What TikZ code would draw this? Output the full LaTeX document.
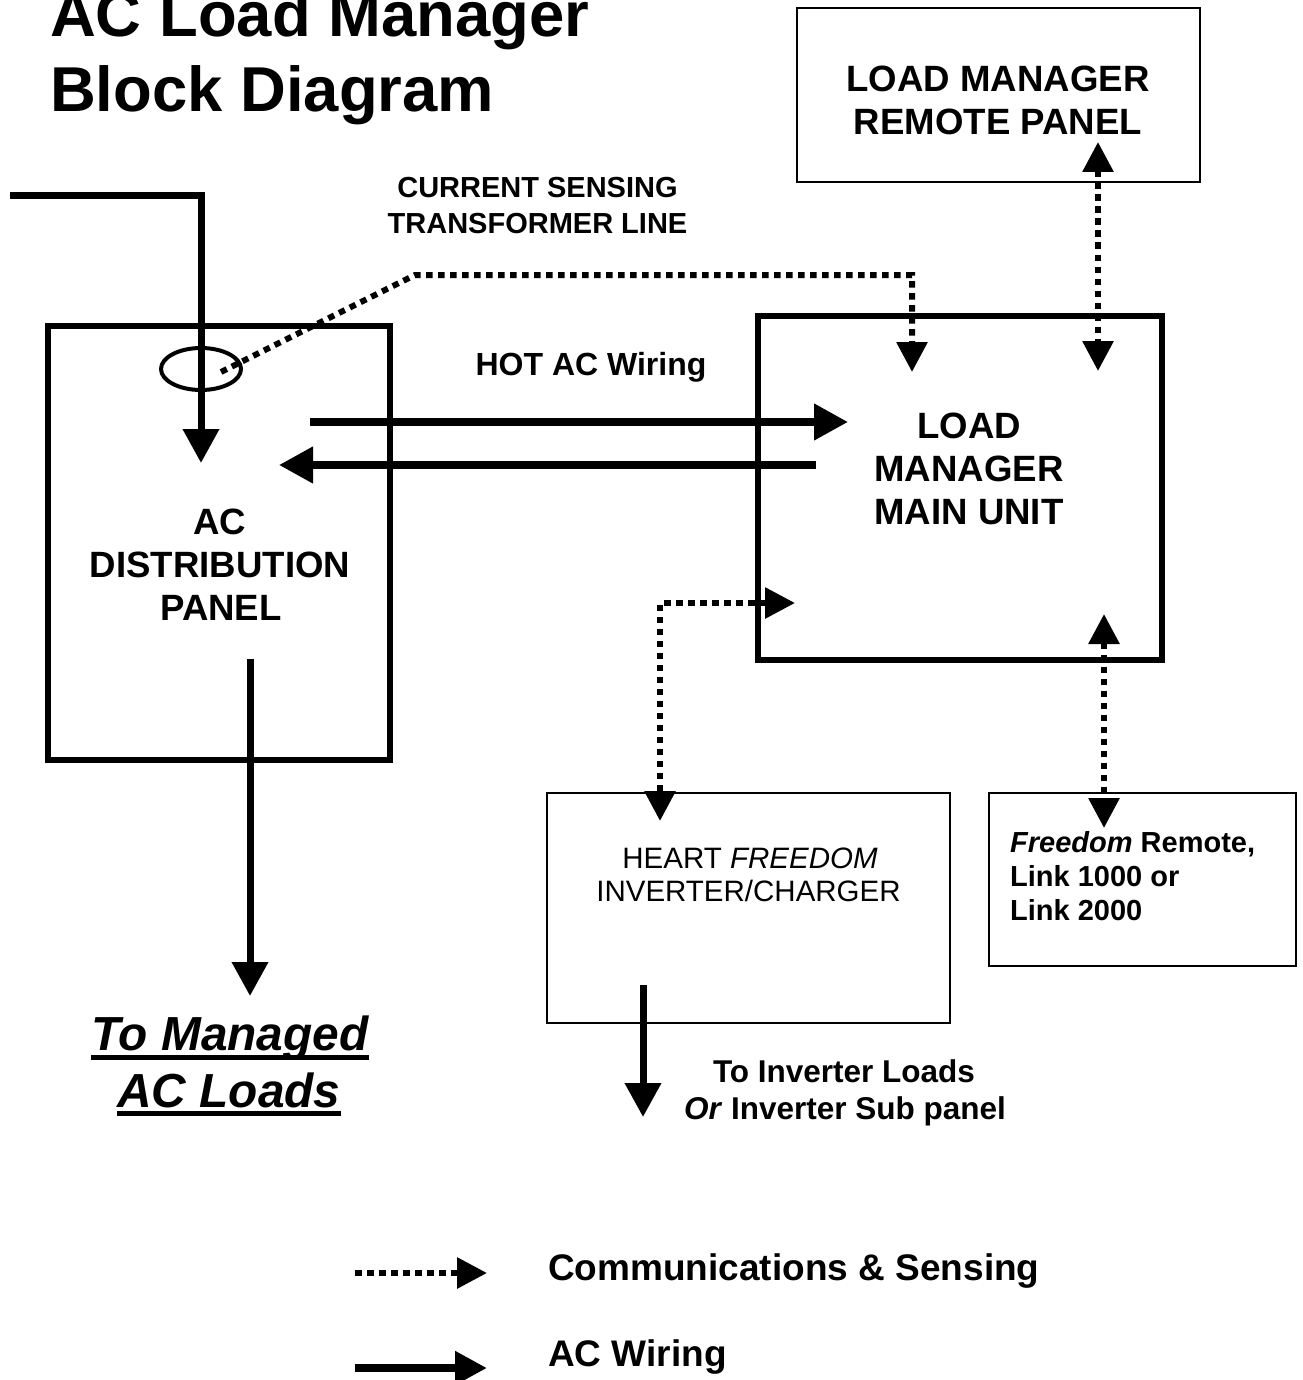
\documentclass[tikz,border=0pt]{standalone}
\usepackage{fontspec}
\setmainfont{Liberation Sans}
\usetikzlibrary{arrows.meta}
\begin{document}
\begin{tikzpicture}[x=1pt,y=-1pt,
  heavybox/.style={draw, line width=6.5pt, inner sep=0pt},
  thinbox/.style={draw, line width=1.5pt, inner sep=0pt},
  wire/.style={line width=7pt, -{Triangle[length=34pt,width=35pt]}},
  wireplain/.style={line width=7pt},
  commline/.style={line width=6pt, dash pattern=on 6.5pt off 5.5pt},
  comm/.style={commline, -{Triangle[length=30pt,width=30pt]}},
  commboth/.style={commline, {Triangle[length=30pt,width=30pt]}-{Triangle[length=30pt,width=30pt]}},
  txt/.style={inner sep=0pt, anchor=base},
  txtw/.style={inner sep=0pt, anchor=base west},
  titlef/.style={font=\fontsize{63.4}{75}\selectfont\bfseries},
  bigf/.style={font=\fontsize{36.6}{43}\selectfont\bfseries},
  midf/.style={font=\fontsize{29}{34}\selectfont\bfseries},
  hotf/.style={font=\fontsize{32}{38}\selectfont\bfseries},
  invf/.style={font=\fontsize{29.5}{34}\selectfont},
  loadf/.style={font=\fontsize{31.5}{37}\selectfont\bfseries},
  manf/.style={font=\fontsize{47.8}{56}\selectfont\bfseries\itshape},
  legf/.style={font=\fontsize{37}{44}\selectfont\bfseries}
]
\useasboundingbox (0,0) rectangle (1302,1380);

% title
\node[txtw,titlef] (t1) at (50,37) {AC Load Manager};
\node[txtw,titlef] (t2) at (50,112) {Block Diagram};

% boxes
\node[thinbox, minimum width=403pt, minimum height=174pt] (remote) at (998.5,95) {};
\node[heavybox, minimum width=404pt, minimum height=344pt] (main) at (960,488) {};
\node[heavybox, minimum width=342pt, minimum height=434pt] (acp) at (219,543) {};
\node[thinbox, minimum width=403pt, minimum height=230pt] (inv) at (748.5,908) {};
\node[thinbox, minimum width=307pt, minimum height=173pt] (frem) at (1142.5,879.5) {};

% box texts
\node[txt,bigf] (r1) at (998,92) {LOAD MANAGER};
\node[txt,bigf] (r2) at (998,135) {REMOTE PANEL};
\node[txt,bigf] (m1) at (969,438) {LOAD};
\node[txt,bigf] (m2) at (969,481) {MANAGER};
\node[txt,bigf] (m3) at (969,524) {MAIN UNIT};
\node[txt,bigf] (a1) at (220,534) {AC};
\node[txt,bigf] (a2) at (220,577) {DISTRIBUTION};
\node[txt,bigf] (a3) at (221,620) {PANEL};
\node[txt,invf] (i1) at (750,868) {HEART \textit{FREEDOM}};
\node[txt,invf] (i2) at (748.5,901) {INVERTER/CHARGER};
\node[txtw,midf] (f1) at (1010,852) {\textit{Freedom} Remote,};
\node[txtw,midf] (f2) at (1010,886) {Link 1000 or};
\node[txtw,midf] (f3) at (1010,920) {Link 2000};

% labels
\node[txt,midf] (cs1) at (537.5,198) {CURRENT SENSING};
\node[txt,midf] (cs2) at (537.5,234) {TRANSFORMER LINE};
\node[txt,hotf] (hot) at (591,375) {HOT AC Wiring};
\node[txt,loadf] (il1) at (844,1082) {To Inverter Loads};
\node[txt,loadf] (il2) at (845,1119) {\textit{Or} Inverter Sub panel};
\node[txt,manf] (ml1) at (230,1050) {To Managed};
\node[txt,manf] (ml2) at (229,1107) {AC Loads};
\draw[line width=5pt] ([yshift=-7pt]ml1.base west) -- ([yshift=-7pt]ml1.base east);
\draw[line width=5pt] ([yshift=-6pt]ml2.base west) -- ([yshift=-6pt]ml2.base east);

% coordinates
\coordinate (inA) at (10,196);
\coordinate (inB) at (201,196);
\coordinate (inC) at (201,463);
\coordinate (ct) at (201,369);
\coordinate (csA) at (221,372);
\coordinate (csB) at (415,275);
\coordinate (csC) at (912,275);
\coordinate (csD) at (912,372);
\coordinate (hotA) at (310,422);
\coordinate (hotB) at (848,422);
\coordinate (hotC) at (816,465);
\coordinate (hotD) at (279,465);
\coordinate (remA) at (1098,142);
\coordinate (remB) at (1098,371);
\coordinate (acoA) at (250,659);
\coordinate (acoB) at (250,996);
\coordinate (ivA) at (795,603);
\coordinate (ivB) at (660,603);
\coordinate (ivC) at (660,821);
\coordinate (frA) at (1104,614);
\coordinate (frB) at (1104,828);
\coordinate (ioA) at (643,985);
\coordinate (ioB) at (643,1117);

% AC wiring
\draw[wire] (inA) -- (inB) -- (inC);
\draw[line width=4pt] (ct) ellipse [x radius=40pt, y radius=21pt];
\draw[wire, line width=7.5pt] (hotA) -- (hotB);
\draw[wire, line width=7.5pt] (hotC) -- (hotD);
\draw[wire] (acoA) -- (acoB);
\draw[wire] (ioA) -- (ioB);

% communications
\draw[comm] (csA) -- (csB) -- (csC) -- (csD);
\draw[commboth] (remA) -- (remB);
\draw[commboth] (ivA) -- (ivB) -- (ivC);
\draw[commboth] (frA) -- (frB);

% legend
\coordinate (lgA) at (355,1273);
\coordinate (lgB) at (487,1273);
\coordinate (lgC) at (355,1368);
\coordinate (lgD) at (487,1368);
\draw[comm] (lgA) -- (lgB);
\draw[line width=8pt, -{Triangle[length=32pt,width=32pt]}] (lgC) -- (lgD);
\node[txtw,legf] (lg1) at (548,1280) {Communications \& Sensing};
\node[txtw,legf] (lg2) at (548,1366) {AC Wiring};
\end{tikzpicture}
\end{document}
